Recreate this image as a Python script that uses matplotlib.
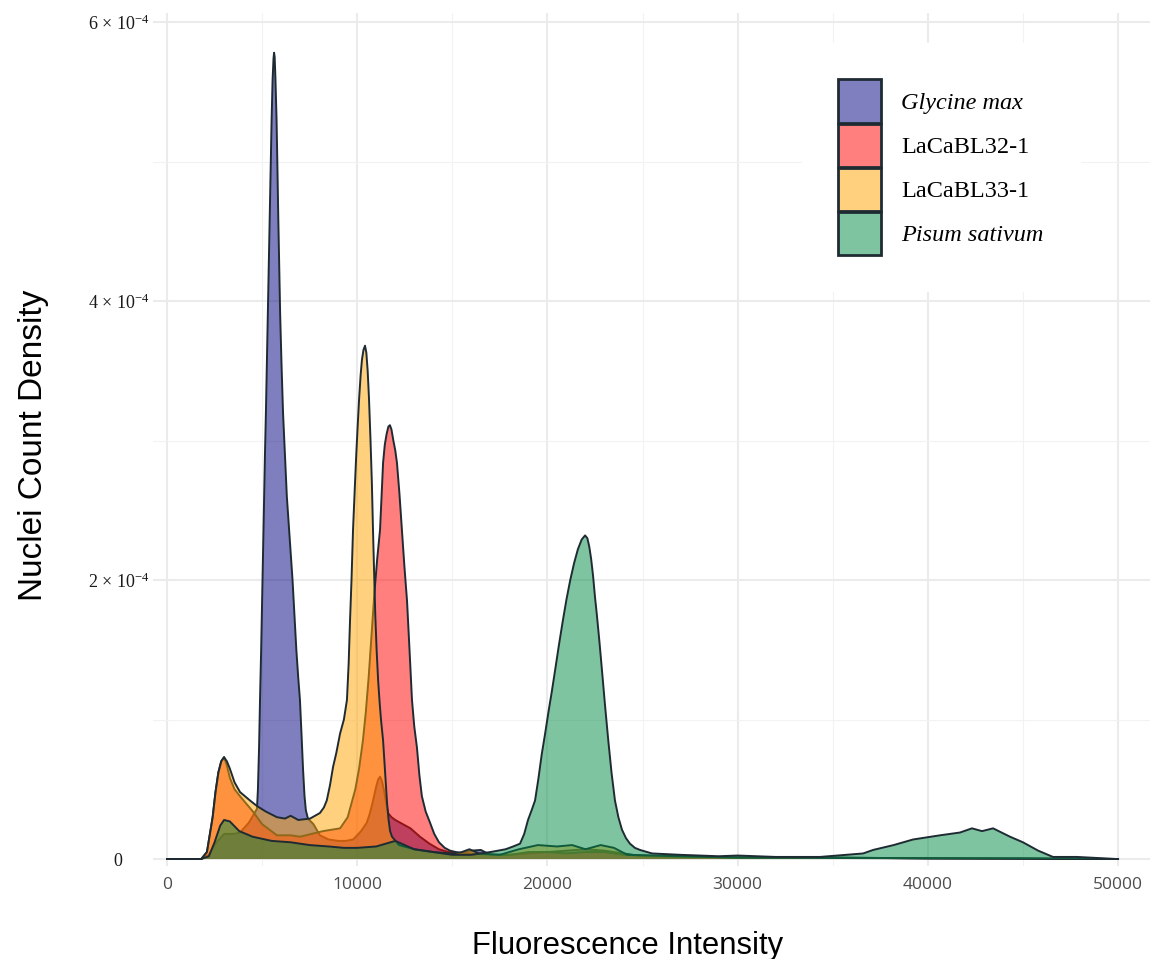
import matplotlib
matplotlib.use('Agg')
import matplotlib.pyplot as plt
from matplotlib.patches import Patch
from matplotlib.colors import to_rgb

plt.rcParams['mathtext.fontset'] = 'custom'
plt.rcParams['mathtext.rm'] = 'Liberation Serif'
plt.rcParams['mathtext.it'] = 'Liberation Serif:italic'

# ---------------- data (x: fluorescence intensity, y: density in units of 1e-4) -------------
species = ['Glycine max', 'LaCaBL32-1', 'LaCaBL33-1', 'Pisum sativum']
species_italic = [True, False, False, True]
fill_colors = ['#000080', '#FF0000', '#FFA500', '#008B45']
Y_UNIT = 1e-4

glycine = [(0, 0), (1800, 0), (2200, 0.03), (2600, 0.12), (3000, 0.18), (3500, 0.18), (3840, 0.19),
           (4300, 0.26), (4730, 0.36), (4780, 0.5), (4840, 0.8), (4890, 1.14), (4950, 1.5),
           (5000, 1.85), (5050, 2.2), (5100, 2.55), (5150, 2.9), (5200, 3.2), (5250, 3.55), (5300, 3.9),
           (5350, 4.25), (5400, 4.6), (5450, 4.95), (5500, 5.3), (5550, 5.58), (5600, 5.74),
           (5630, 5.78), (5660, 5.75), (5700, 5.6), (5760, 5.3), (5800, 5.0), (5850, 4.6), (5900, 4.25),
           (5950, 3.9), (6020, 3.55), (6100, 3.2), (6200, 2.9), (6300, 2.6), (6450, 2.3), (6600, 2.0),
           (6700, 1.75), (6800, 1.5), (6900, 1.3), (6990, 1.14), (7070, 0.9), (7150, 0.65),
           (7230, 0.45), (7300, 0.35), (7410, 0.29), (7700, 0.25), (8040, 0.17), (8500, 0.14),
           (9000, 0.13), (9400, 0.13), (9780, 0.14), (10000, 0.17), (10200, 0.2), (10350, 0.23),
           (10500, 0.26), (10650, 0.32), (10800, 0.4), (10900, 0.46), (11000, 0.52), (11100, 0.57),
           (11200, 0.59), (11300, 0.56), (11400, 0.5), (11500, 0.42), (11620, 0.33), (11800, 0.3),
           (12000, 0.28), (12400, 0.25), (12800, 0.22), (13300, 0.16), (13800, 0.11), (14300, 0.07),
           (14800, 0.05), (15500, 0.04), (16000, 0.06), (16500, 0.065), (17000, 0.03), (18000, 0.03),
           (19000, 0.04), (20000, 0.05), (21000, 0.06), (22000, 0.07), (23000, 0.06), (24000, 0.04),
           (25000, 0.02), (27000, 0.015), (30000, 0.01), (35000, 0.01), (40000, 0.005), (45000, 0.005),
           (50000, 0)]

lacabl32 = [(0, 0), (1800, 0), (2100, 0.05), (2400, 0.3), (2550, 0.48), (2700, 0.62), (2850, 0.7),
            (3000, 0.73), (3150, 0.67), (3310, 0.58), (3550, 0.5), (3840, 0.45), (4520, 0.34),
            (5000, 0.25), (5780, 0.17), (6500, 0.17), (7000, 0.16), (7600, 0.18), (8200, 0.2),
            (9100, 0.22), (9500, 0.3), (9900, 0.5), (10100, 0.65), (10300, 0.85), (10450, 1.05),
            (10600, 1.3), (10750, 1.6), (10900, 1.9), (11050, 2.15), (11200, 2.36), (11280, 2.6),
            (11360, 2.84), (11450, 2.97), (11550, 3.05), (11640, 3.1), (11720, 3.11), (11800, 3.08),
            (11900, 3.0), (12000, 2.93), (12090, 2.84), (12220, 2.62), (12350, 2.36), (12480, 2.1),
            (12620, 1.85), (12750, 1.5), (12880, 1.14), (13000, 0.95), (13140, 0.8), (13270, 0.6),
            (13400, 0.45), (13600, 0.34), (13830, 0.26), (14050, 0.18), (14300, 0.12), (14600, 0.08),
            (14880, 0.06), (15500, 0.04), (16000, 0.04), (17000, 0.03), (18000, 0.03), (19000, 0.05),
            (20000, 0.05), (21000, 0.04), (22000, 0.05), (23000, 0.05), (24000, 0.03), (26000, 0.02),
            (30000, 0.01), (35000, 0.01), (40000, 0.005), (50000, 0)]

lacabl33 = [(0, 0), (1800, 0), (2100, 0.05), (2400, 0.3), (2550, 0.48), (2700, 0.62), (2850, 0.7),
            (3000, 0.73), (3150, 0.7), (3300, 0.65), (3550, 0.55), (3840, 0.48), (4360, 0.42),
            (4730, 0.38), (5200, 0.34), (5780, 0.30), (6200, 0.29), (6500, 0.31), (6900, 0.28),
            (7520, 0.29), (8040, 0.33), (8250, 0.37), (8400, 0.42), (8570, 0.53), (8730, 0.66),
            (8900, 0.76), (9100, 0.9), (9300, 1.0), (9460, 1.14), (9550, 1.4), (9620, 1.7), (9700, 2.0),
            (9780, 2.36), (9870, 2.65), (9950, 2.9), (10030, 3.12), (10100, 3.3), (10180, 3.47),
            (10250, 3.58), (10330, 3.65), (10410, 3.68), (10480, 3.63), (10550, 3.5), (10620, 3.3),
            (10700, 3.0), (10770, 2.7), (10830, 2.36), (10890, 2.05), (10950, 1.75), (11020, 1.5),
            (11100, 1.28), (11180, 1.12), (11250, 1.0), (11360, 0.85), (11430, 0.7), (11500, 0.55),
            (11570, 0.4), (11650, 0.28), (11730, 0.2), (11830, 0.16), (12200, 0.1), (13000, 0.07),
            (14000, 0.05), (15000, 0.04), (15500, 0.05), (15900, 0.07), (16400, 0.04), (17500, 0.03),
            (18500, 0.07), (19500, 0.1), (20500, 0.09), (21300, 0.1), (22000, 0.07), (22800, 0.1),
            (23500, 0.08), (24200, 0.03), (27000, 0.02), (30000, 0.01), (40000, 0.005), (50000, 0)]

pisum = [(0, 0), (1800, 0), (2200, 0.02), (2500, 0.12), (2800, 0.24), (3000, 0.28), (3300, 0.27),
         (3800, 0.2), (4500, 0.16), (5500, 0.13), (6500, 0.12), (7500, 0.1), (8500, 0.09), (9300, 0.08),
         (10000, 0.08), (11000, 0.09), (12000, 0.13), (12500, 0.1), (13000, 0.07), (14000, 0.05),
         (15000, 0.03), (16000, 0.03), (17000, 0.05), (17800, 0.07), (18200, 0.09), (18560, 0.11),
         (18780, 0.18), (18980, 0.28), (19170, 0.35), (19350, 0.42), (19530, 0.58), (19700, 0.75),
         (19880, 0.9), (20050, 1.05), (20230, 1.2), (20400, 1.35), (20600, 1.53), (20800, 1.7),
         (21000, 1.86), (21200, 2.0), (21400, 2.12), (21600, 2.22), (21800, 2.29), (21980, 2.32),
         (22100, 2.3), (22200, 2.24), (22300, 2.15), (22400, 2.03), (22500, 1.88), (22600, 1.75),
         (22740, 1.55), (22870, 1.35), (23030, 1.1), (23200, 0.85), (23370, 0.62), (23550, 0.42),
         (23730, 0.3), (23920, 0.21), (24130, 0.15), (24340, 0.11), (24600, 0.08), (24870, 0.065),
         (25500, 0.04), (27000, 0.03), (29000, 0.02), (30000, 0.025), (32000, 0.015), (34330, 0.015),
         (36600, 0.04), (37120, 0.065), (38200, 0.1), (39220, 0.14), (40640, 0.17), (41690, 0.19),
         (42320, 0.22), (42850, 0.20), (43430, 0.22), (44320, 0.16), (45000, 0.12), (45800, 0.06),
         (46580, 0.015), (47840, 0.015), (49950, 0), (50000, 0)]

curves = [glycine, lacabl32, lacabl33, pisum]

x_ticks = [0, 10000, 20000, 30000, 40000, 50000]
x_minor = [5000, 15000, 25000, 35000, 45000]
y_ticks = [0, 2e-4, 4e-4, 6e-4]
y_tick_labels = ['0', '2 × 10$^{-4}$', '4 × 10$^{-4}$', '6 × 10$^{-4}$']
y_minor = [1e-4, 3e-4, 5e-4]

# ---------------- figure --------------------------------------------------------------------
W, H = 1150, 959
fig = plt.figure(figsize=(W / 100, H / 100), dpi=100)
ax = fig.add_axes([153 / W, 93 / H, 997 / W, 853 / H])
ax.set_xlim(-736, 51680)
ax.set_ylim(-0.05e-4, 6.065e-4)

for s in ax.spines.values():
    s.set_visible(False)

edge = '#1f2b33'
for pts, col in zip(curves, fill_colors):
    xs = [p[0] for p in pts]
    ys = [p[1] * Y_UNIT for p in pts]
    r, g, b = to_rgb(col)
    ax.fill_between(xs, 0, ys, facecolor=(r, g, b, 0.5), edgecolor='none', zorder=2)
    ax.plot(xs, ys, color=edge, lw=1.4, zorder=2, solid_joinstyle='round')

# grid
ax.set_xticks(x_ticks)
ax.set_xticks(x_minor, minor=True)
ax.set_yticks(y_ticks)
ax.set_yticks(y_minor, minor=True)
ax.set_yticklabels(y_tick_labels)
ax.set_xticklabels([str(v) for v in x_ticks])
ax.grid(which='major', color='#ebebeb', lw=1.5)
ax.grid(which='minor', color='#f2f2f2', lw=0.8)
ax.set_axisbelow(True)
ax.tick_params(which='both', length=0)
ax.tick_params(axis='x', pad=8, labelsize=12.5, labelcolor='#4d4d4d')
ax.tick_params(axis='y', pad=25, labelsize=13, labelcolor='#1a1a1a')
for lab in ax.get_xticklabels():
    lab.set_fontfamily('Open Sans')
for lab in ax.get_yticklabels():
    lab.set_ha('center')
    lab.set_fontfamily('Liberation Serif')

ax.set_xlabel('Fluorescence Intensity', fontsize=22.3, family='Liberation Sans', labelpad=27.5)
ax.set_ylabel('Nuclei Count Density', fontsize=24, family='Liberation Sans', labelpad=27.5)
ax.xaxis.label.set_x((628 - 153) / 997)
ax.yaxis.label.set_y((866 - 445) / 853)

handles = []
for col in fill_colors:
    r, g, b = to_rgb(col)
    handles.append(Patch(facecolor=(r, g, b, 0.5), edgecolor=edge, linewidth=2))
leg = ax.legend(handles, species, loc='upper left', bbox_to_anchor=(802 / W, 916 / H),
                bbox_transform=fig.transFigure, borderaxespad=0, borderpad=1.5,
                prop={'family': 'Liberation Serif', 'size': 17.5},
                handlelength=1.77, handleheight=2.35, labelspacing=0.04, handletextpad=0.8,
                frameon=True, fancybox=False, facecolor='white', edgecolor='white', framealpha=1)
for t, it in zip(leg.get_texts(), species_italic):
    if it:
        t.set_fontstyle('italic')

fig.savefig('out.png', dpi=100)
